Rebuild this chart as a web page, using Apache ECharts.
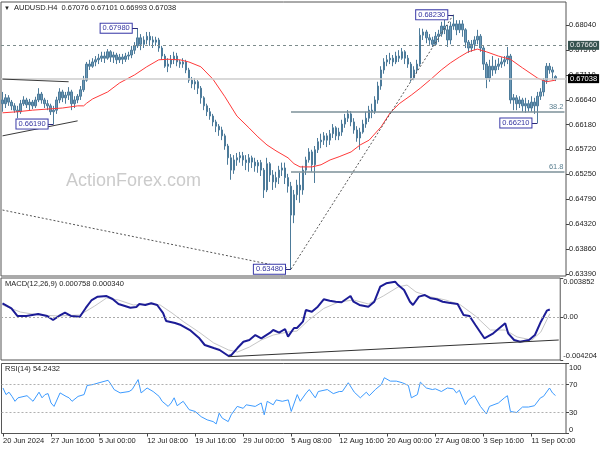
<!DOCTYPE html>
<html><head><meta charset="utf-8">
<script src="https://cdn.jsdelivr.net/npm/echarts@6/dist/echarts.min.js"></script>
<style>html,body{margin:0;padding:0;background:#fff}#c{width:600px;height:450px}</style>
</head><body><div id="c"></div>
<script>
const symbolName = 'AUDUSD.H4';
const lastQuote = ['0.67076', '0.67101', '0.66993', '0.67038'];
const macdTitle = 'MACD(12,26,9) 0.000758 0.000340';
const rsiTitle = 'RSI(14) 54.2432';
const watermark = 'ActionForex.com';
const xTickLabels = ['20 Jun 2024','27 Jun 16:00','5 Jul 00:00','12 Jul 08:00','19 Jul 16:00','29 Jul 00:00','5 Aug 08:00','12 Aug 16:00','20 Aug 00:00','27 Aug 08:00','3 Sep 16:00','11 Sep 00:00'];
const priceTicks = [0.63390,0.63860,0.64320,0.64790,0.65250,0.65720,0.66180,0.66640,0.67110,0.67570,0.68040];
const macdTicks = [-0.004204, 0, 0.003852];
const rsiTicks = [0, 30, 70, 100];
const barCount = 188;

// [open, close, low, high]
const ohlc = [
[0.6664,0.6657,0.6642,0.6679],[0.6657,0.6668,0.6649,0.6675],[0.6668,0.6660,0.6653,0.6673],[0.6660,0.6653,0.6645,0.6664],
[0.6653,0.6645,0.6640,0.6658],[0.6645,0.6642,0.6630,0.6653],[0.6642,0.6657,0.6638,0.6664],[0.6657,0.6664,0.6653,0.6671],
[0.6664,0.6655,0.6649,0.6668],[0.6655,0.6660,0.6645,0.6666],[0.6660,0.6653,0.6647,0.6664],[0.6653,0.6664,0.6649,0.6670],
[0.6664,0.6675,0.6660,0.6686],[0.6675,0.6664,0.6657,0.6679],[0.6664,0.6657,0.6649,0.6668],[0.6657,0.6653,0.6645,0.6664],
[0.6653,0.6642,0.6636,0.6657],[0.6642,0.6645,0.6619,0.6653],[0.6645,0.6664,0.6638,0.6670],[0.6664,0.6679,0.6658,0.6686],
[0.6679,0.6668,0.6660,0.6683],[0.6668,0.6673,0.6657,0.6679],[0.6673,0.6679,0.6664,0.6688],[0.6679,0.6657,0.6645,0.6683],
[0.6657,0.6664,0.6649,0.6671],[0.6664,0.6671,0.6658,0.6675],[0.6671,0.6683,0.6664,0.6690],[0.6683,0.6701,0.6679,0.6709],
[0.6701,0.6731,0.6698,0.6735],[0.6731,0.6727,0.6720,0.6739],[0.6727,0.6735,0.6724,0.6742],[0.6735,0.6739,0.6727,0.6746],
[0.6739,0.6742,0.6731,0.6750],[0.6742,0.6746,0.6735,0.6754],[0.6746,0.6742,0.6733,0.6754],[0.6742,0.6754,0.6739,0.6759],
[0.6754,0.6744,0.6735,0.6757],[0.6744,0.6748,0.6733,0.6754],[0.6748,0.6739,0.6731,0.6752],[0.6739,0.6744,0.6733,0.6750],
[0.6744,0.6740,0.6731,0.6750],[0.6740,0.6746,0.6735,0.6752],[0.6746,0.6748,0.6739,0.6754],[0.6748,0.6757,0.6742,0.6765],
[0.6757,0.6765,0.6750,0.6772],[0.6765,0.6780,0.6761,0.6798],[0.6780,0.6768,0.6757,0.6787],[0.6768,0.6776,0.6761,0.6783],
[0.6776,0.6783,0.6768,0.6791],[0.6783,0.6776,0.6765,0.6791],[0.6776,0.6772,0.6761,0.6783],[0.6772,0.6776,0.6765,0.6782],
[0.6776,0.6761,0.6754,0.6780],[0.6761,0.6746,0.6739,0.6765],[0.6746,0.6727,0.6724,0.6750],[0.6727,0.6731,0.6716,0.6742],
[0.6731,0.6739,0.6724,0.6748],[0.6739,0.6746,0.6731,0.6754],[0.6746,0.6735,0.6727,0.6752],[0.6735,0.6731,0.6724,0.6739],
[0.6731,0.6735,0.6724,0.6742],[0.6735,0.6720,0.6714,0.6739],[0.6720,0.6701,0.6696,0.6724],[0.6701,0.6694,0.6686,0.6707],
[0.6694,0.6698,0.6683,0.6705],[0.6698,0.6686,0.6675,0.6701],[0.6686,0.6668,0.6657,0.6690],[0.6668,0.6653,0.6645,0.6671],
[0.6653,0.6642,0.6634,0.6657],[0.6642,0.6634,0.6627,0.6649],[0.6634,0.6623,0.6615,0.6638],[0.6623,0.6615,0.6604,0.6627],
[0.6615,0.6608,0.6597,0.6619],[0.6608,0.6597,0.6589,0.6614],[0.6597,0.6578,0.6571,0.6601],[0.6578,0.6556,0.6543,0.6582],
[0.6556,0.6533,0.6515,0.6563],[0.6533,0.6552,0.6526,0.6561],[0.6552,0.6556,0.6541,0.6565],[0.6556,0.6560,0.6547,0.6567],
[0.6560,0.6552,0.6541,0.6567],[0.6552,0.6547,0.6533,0.6561],[0.6547,0.6556,0.6530,0.6563],[0.6556,0.6548,0.6537,0.6560],
[0.6548,0.6541,0.6530,0.6556],[0.6541,0.6547,0.6528,0.6552],[0.6547,0.6533,0.6522,0.6552],[0.6533,0.6496,0.6481,0.6537],
[0.6496,0.6545,0.6492,0.6556],[0.6545,0.6524,0.6511,0.6548],[0.6524,0.6511,0.6496,0.6533],[0.6511,0.6519,0.6500,0.6530],
[0.6519,0.6533,0.6507,0.6541],[0.6533,0.6537,0.6522,0.6547],[0.6537,0.6519,0.6507,0.6547],[0.6519,0.6503,0.6491,0.6526],
[0.6503,0.6449,0.6348,0.6511],[0.6449,0.6487,0.6434,0.6496],[0.6487,0.6505,0.6477,0.6515],[0.6505,0.6496,0.6472,0.6528],
[0.6496,0.6533,0.6487,0.6541],[0.6533,0.6552,0.6524,0.6558],[0.6552,0.6567,0.6547,0.6574],[0.6567,0.6543,0.6530,0.6571],
[0.6543,0.6571,0.6509,0.6578],[0.6571,0.6586,0.6565,0.6593],[0.6586,0.6589,0.6574,0.6601],[0.6589,0.6597,0.6580,0.6604],
[0.6597,0.6589,0.6576,0.6602],[0.6589,0.6601,0.6580,0.6608],[0.6601,0.6612,0.6593,0.6619],[0.6612,0.6597,0.6589,0.6615],
[0.6597,0.6604,0.6589,0.6612],[0.6604,0.6619,0.6597,0.6627],[0.6619,0.6630,0.6612,0.6638],[0.6630,0.6638,0.6623,0.6645],
[0.6638,0.6623,0.6615,0.6643],[0.6623,0.6608,0.6601,0.6630],[0.6608,0.6593,0.6586,0.6615],[0.6593,0.6604,0.6571,0.6612],
[0.6604,0.6619,0.6601,0.6627],[0.6619,0.6630,0.6612,0.6642],[0.6630,0.6645,0.6623,0.6653],[0.6645,0.6642,0.6630,0.6657],
[0.6642,0.6664,0.6638,0.6671],[0.6664,0.6690,0.6657,0.6698],[0.6690,0.6720,0.6683,0.6727],[0.6720,0.6735,0.6713,0.6742],
[0.6735,0.6739,0.6727,0.6748],[0.6739,0.6742,0.6731,0.6752],[0.6742,0.6735,0.6727,0.6748],[0.6735,0.6746,0.6731,0.6754],
[0.6746,0.6742,0.6735,0.6757],[0.6742,0.6754,0.6739,0.6761],[0.6754,0.6742,0.6731,0.6757],[0.6742,0.6731,0.6724,0.6748],
[0.6731,0.6705,0.6698,0.6735],[0.6705,0.6720,0.6701,0.6727],[0.6720,0.6731,0.6713,0.6739],[0.6731,0.6785,0.6727,0.6798],
[0.6785,0.6791,0.6776,0.6797],[0.6791,0.6780,0.6770,0.6795],[0.6780,0.6776,0.6767,0.6787],[0.6776,0.6768,0.6763,0.6782],
[0.6768,0.6783,0.6765,0.6791],[0.6783,0.6787,0.6772,0.6795],[0.6787,0.6802,0.6782,0.6810],[0.6802,0.6795,0.6787,0.6817],
[0.6795,0.6776,0.6763,0.6804],[0.6776,0.6802,0.6768,0.6810],[0.6802,0.6806,0.6795,0.6823],[0.6806,0.6795,0.6785,0.6813],
[0.6795,0.6806,0.6789,0.6813],[0.6806,0.6795,0.6782,0.6813],[0.6795,0.6772,0.6761,0.6798],[0.6772,0.6761,0.6752,0.6776],
[0.6761,0.6768,0.6754,0.6776],[0.6768,0.6776,0.6757,0.6783],[0.6776,0.6783,0.6768,0.6795],[0.6783,0.6761,0.6754,0.6787],
[0.6761,0.6731,0.6720,0.6765],[0.6731,0.6705,0.6686,0.6735],[0.6705,0.6727,0.6698,0.6739],[0.6727,0.6720,0.6709,0.6746],
[0.6720,0.6727,0.6713,0.6739],[0.6727,0.6731,0.6720,0.6742],[0.6731,0.6735,0.6724,0.6744],[0.6735,0.6739,0.6727,0.6746],
[0.6739,0.6746,0.6731,0.6763],[0.6746,0.6664,0.6657,0.6750],[0.6664,0.6668,0.6645,0.6675],[0.6668,0.6657,0.6645,0.6673],
[0.6657,0.6664,0.6649,0.6671],[0.6664,0.6653,0.6642,0.6668],[0.6653,0.6657,0.6640,0.6668],[0.6657,0.6649,0.6642,0.6664],
[0.6649,0.6660,0.6642,0.6671],[0.6660,0.6653,0.6638,0.6668],[0.6653,0.6671,0.6621,0.6679],[0.6671,0.6679,0.6664,0.6686],
[0.6679,0.6701,0.6671,0.6705],[0.6701,0.6727,0.6694,0.6733],[0.6727,0.6720,0.6713,0.6733],[0.6720,0.6716,0.6701,0.6726],
[0.67076,0.67038,0.66993,0.67101]
];

// moving average [bar, value]
const ma = [[0,0.6640],[5,0.6642],[10,0.6645],[15,0.6647],[20,0.6649],[25,0.6653],[27,0.6653],[28,0.6658],[30,0.6666],
[35,0.6679],[39,0.6696],[44,0.6711],[48,0.6726],[52,0.6739],[55,0.6740],[59,0.6739],[62,0.6735],[66,0.6726],[70,0.6703],
[74,0.6670],[78,0.6634],[82,0.6612],[85,0.6595],[88,0.6580],[91,0.6569],[95,0.6556],[97,0.6545],[99,0.6539],[103,0.6539],
[106,0.6543],[109,0.6552],[112,0.6558],[116,0.6567],[119,0.6580],[122,0.6589],[126,0.6614],[129,0.6640],[132,0.6657],
[136,0.6673],[139,0.6686],[143,0.6705],[146,0.6720],[149,0.6733],[152,0.6744],[155,0.6754],[158,0.6759],[161,0.6754],
[165,0.6746],[169,0.6740],[173,0.6724],[178,0.6705],[181,0.6698],[184,0.6701]];

const macdMain = [[0,0.00137],[3,0.00086],[5,0.00012],[8,0.00012],[10,0.00022],[12,0.00032],[15,0.00012],[17,-0.00027],
[19,0.00012],[21,0.00044],[23,0.00012],[26,0.00005],[28,0.00091],[30,0.00169],[32,0.00202],[35,0.00208],[37,0.00179],
[39,0.00130],[43,0.00093],[45,0.00100],[46,0.00130],[48,0.00120],[50,0.00137],[52,0.00120],[54,0.00041],[55,-0.00037],
[58,-0.00057],[60,-0.00077],[63,-0.00126],[66,-0.00201],[68,-0.00273],[71,-0.00303],[73,-0.00322],[76,-0.00381],
[77,-0.00371],[79,-0.00303],[81,-0.00241],[83,-0.00224],[85,-0.00175],[87,-0.00207],[90,-0.00152],[91,-0.00126],
[93,-0.00152],[95,-0.00116],[96,-0.00191],[98,-0.00106],[99,-0.00106],[101,-0.00044],[102,0.00071],[104,0.00054],
[106,0.00103],[108,0.00176],[110,0.00162],[112,0.00152],[114,0.00147],[117,0.00208],[118,0.00152],[120,0.00120],
[123,0.00103],[125,0.00152],[127,0.00300],[129,0.00333],[132,0.00349],[133,0.00316],[135,0.00267],[137,0.00152],
[138,0.00120],[140,0.00202],[142,0.00218],[144,0.00186],[146,0.00176],[148,0.00152],[150,0.00143],[153,0.00130],
[155,0.00022],[157,0.00012],[159,-0.00077],[162,-0.00207],[165,-0.00158],[167,-0.00109],[169,-0.00060],[170,-0.00158],
[172,-0.00224],[174,-0.00241],[177,-0.00224],[179,-0.00175],[181,-0.00044],[183,0.00064],[184,0.000758]];

const macdSignal = [[0,0.00120],[6,0.00051],[12,0.00022],[19,0.00012],[26,0.00022],[31,0.00110],[35,0.00189],[39,0.00169],
[44,0.00120],[49,0.00130],[53,0.00120],[57,0.00041],[61,-0.00047],[66,-0.00145],[71,-0.00253],[76,-0.00322],[79,-0.00342],
[83,-0.00293],[87,-0.00224],[91,-0.00175],[96,-0.00145],[99,-0.00136],[103,-0.00027],[108,0.00086],[113,0.00149],
[118,0.00169],[123,0.00130],[128,0.00208],[133,0.00297],[136,0.00316],[139,0.00248],[144,0.00199],[149,0.00169],
[154,0.00120],[159,0.00012],[164,-0.00126],[169,-0.00126],[173,-0.00194],[178,-0.00224],[181,-0.00145],[184,0.00034]];

const rsi = [[0,65],[1,55.6],[2,59],[3,53],[4,46],[5,51],[7,53],[8,54],[10,46],[12,59],[13,51],[14,55.6],[15,57],[16,43.6],
[17,38.7],[19,58],[21,53],[22,51],[23,46],[25,53],[27,55.6],[28,68.6],[30,70],[32,72.5],[35,76],[36,70],[37,62.8],[39,58],
[42,60],[43,62.8],[45,77],[46,58],[48,65],[50,60],[52,53],[53,46],[55,38.7],[56,43.6],[57,51],[58,39.7],[60,46],[62,34],
[64,31.5],[66,24],[68,19.5],[70,17],[71,13.7],[72,29],[73,22],[75,17],[76,26.7],[78,38.7],[80,36],[81,41],[84,38.7],
[86,43.6],[87,26.7],[88,46],[90,41],[91,48],[93,46],[95,48],[96,31.5],[98,55.6],[99,46],[101,58],[102,62.8],[104,51],
[105,60],[108,62.8],[110,57],[112,60],[113,60],[115,72.5],[117,59],[119,51],[121,59],[122,54],[124,62.8],[126,70],
[127,79.7],[129,74.8],[131,74.8],[133,72.5],[135,68.6],[136,51],[138,55.6],[139,73.4],[141,65],[143,62.8],[144,63.8],
[146,60],[148,65],[150,63.8],[151,58],[152,61.8],[154,41],[155,48],[157,54],[159,38.7],[161,28],[162,38.7],[165,43.6],
[167,51],[168,54],[169,31.5],[171,30],[173,37.8],[175,37.8],[177,39.7],[179,51],[180,53],[182,65],[183,58],[184,54.24]];

// swing labels: bar of extreme, price
const swings = [[17,0.66190],[45,0.67980],[96,0.63480],[150,0.68230],[178,0.66210]];
const resistLevel = 0.67660;
const lastPrice = 0.67038;
const fibLevels = [['38.2',0.664155],['61.8',0.652945]];
const fibStartBar = 96;
const trendSolid = [[[0,0.6703],[22,0.6698]], [[0,0.6597],[25,0.6625]]];
const trendDotted = [[[0,0.64585],[95,0.63502]], [[96,0.63480],[150,0.68230]]];
const macdTrend = [[76,-0.00388],[187,-0.00224]];

const FONT = '"Liberation Sans", Arial, sans-serif';
const FS = 7.5;
const categories = Array.from({length: barCount}, (_, i) => String(i));
const tickEvery = 16;

const chart = echarts.init(document.getElementById('c'), null, {renderer: 'canvas'});

const gridStyle = {show: true, borderColor: '#555', borderWidth: 1, backgroundColor: '#fff'};
const grids = [
  Object.assign({left: 1, top: 2, width: 565, height: 274}, gridStyle),
  Object.assign({left: 1, top: 278, width: 565, height: 82}, gridStyle),
  Object.assign({left: 1, top: 363.5, width: 565, height: 70}, gridStyle)
];
const hiddenX = (g) => ({type: 'category', gridIndex: g, data: categories, boundaryGap: true,
  axisLine: {show: false}, axisTick: {show: false}, axisLabel: {show: false}, splitLine: {show: false}});
const labelInterval = (index) => index % tickEvery === 0 && index / tickEvery < xTickLabels.length;

const yBase = (g, min, max, ticks, fmt, edgeAlign) => {
  const lab = {show: true, customValues: ticks, formatter: fmt, fontSize: FS, fontFamily: FONT, color: '#222', margin: 3};
  if (edgeAlign) { lab.verticalAlignMinLabel = 'bottom'; lab.verticalAlignMaxLabel = 'top'; }
  return {
    type: 'value', gridIndex: g, position: 'right', min: min, max: max, scale: true,
    axisLine: {show: false}, splitLine: {show: false},
    axisTick: {show: true, inside: false, length: 3, lineStyle: {color: '#444'}, customValues: ticks},
    axisLabel: lab
  };
};

const priceMin = 0.633527, priceMax = 0.684695;

const markLineData = [];
markLineData.push({yAxis: resistLevel, lineStyle: {type: [3, 3], color: '#7d8c8c', width: 1},
  label: {show: true, position: 'end', distance: 2, formatter: resistLevel.toFixed(5), backgroundColor: '#36524f',
    color: '#eaeaea', padding: [1, 2, 0, 2], fontSize: FS, fontFamily: FONT}});
markLineData.push({yAxis: lastPrice, lineStyle: {type: 'solid', color: '#cdcdcd', width: 1.5},
  label: {show: true, position: 'end', distance: 2, formatter: lastQuote[3], backgroundColor: '#000',
    color: '#fff', padding: [1, 2, 0, 2], fontSize: FS, fontFamily: FONT}});
fibLevels.forEach(([name, v]) => {
  markLineData.push([{coord: [fibStartBar, v], lineStyle: {type: 'solid', color: '#7c9098', width: 1.5},
    label: {show: true, position: 'insideEndTop', distance: 1, formatter: name, color: '#5a7f90', fontSize: FS, fontFamily: FONT}},
    {coord: [barCount - 1, v]}]);
});
trendSolid.forEach(seg => markLineData.push([{coord: seg[0], lineStyle: {type: 'solid', color: '#3a3a3a', width: 1}}, {coord: seg[1]}]));
trendDotted.forEach(seg => markLineData.push([{coord: seg[0], lineStyle: {type: [2, 2], color: '#555', width: 1}}, {coord: seg[1]}]));
swings.forEach(([i, p]) => markLineData.push([{coord: [i - 2, p], lineStyle: {type: 'solid', color: '#2a2a7a', width: 1}}, {coord: [i, p]}]));

const markPointData = swings.map(([i, p]) => ({coord: [i - 2, p], symbolSize: 0,
  label: {show: true, position: 'left', distance: 0, formatter: p.toFixed(5), backgroundColor: '#fff',
    borderColor: '#3a3aa8', borderWidth: 1, padding: [1, 2, 0, 2], color: '#3434a0', fontSize: FS, fontFamily: FONT}}));

const option = {
  animation: false,
  backgroundColor: '#fff',
  grid: grids,
  xAxis: [hiddenX(0), hiddenX(1), {
    type: 'category', gridIndex: 2, data: categories, boundaryGap: true,
    axisLine: {show: false}, splitLine: {show: false},
    axisTick: {show: true, alignWithLabel: true, interval: labelInterval, length: 3, lineStyle: {color: '#444'}},
    axisLabel: {show: true, interval: labelInterval, align: 'left', margin: 3, fontSize: FS, fontFamily: FONT, color: '#222',
      formatter: (v, idx) => xTickLabels[Math.round(idx / tickEvery)] || ''}
  }],
  yAxis: [
    yBase(0, priceMin, priceMax, priceTicks, v => v.toFixed(5), false),
    yBase(1, macdTicks[0], macdTicks[2], macdTicks, v => v === 0 ? '0.00' : v.toFixed(6), true),
    yBase(2, 0, 100, rsiTicks, v => String(v), true)
  ],
  series: [
    {type: 'candlestick', xAxisIndex: 0, yAxisIndex: 0, data: ohlc, barWidth: 2, silent: true,
      itemStyle: {color: '#6b98b6', color0: '#6b98b6', borderColor: '#4d7b9a', borderColor0: '#4d7b9a', borderWidth: 1},
      markLine: {silent: true, precision: 6, symbol: ['none', 'none'], animation: false, label: {show: false}, data: markLineData},
      markPoint: {silent: true, animation: false, symbolSize: 0, data: markPointData}},
    {type: 'line', xAxisIndex: 0, yAxisIndex: 0, data: ma, symbol: 'none', silent: true,
      lineStyle: {color: '#ff3a3a', width: 1}},
    {type: 'line', xAxisIndex: 1, yAxisIndex: 1, data: macdSignal, symbol: 'none', silent: true,
      lineStyle: {color: '#c6c6c6', width: 1}},
    {type: 'line', xAxisIndex: 1, yAxisIndex: 1, data: macdMain, symbol: 'none', silent: true,
      lineStyle: {color: '#1c1c96', width: 2},
      markLine: {silent: true, precision: 6, symbol: ['none', 'none'], animation: false, label: {show: false},
        data: [{yAxis: 0, lineStyle: {type: [2, 2], color: '#aaa', width: 1}},
               [{coord: macdTrend[0], lineStyle: {type: 'solid', color: '#333', width: 1}}, {coord: macdTrend[1]}]]}},
    {type: 'line', xAxisIndex: 2, yAxisIndex: 2, data: rsi, symbol: 'none', silent: true,
      lineStyle: {color: '#3d9bff', width: 1},
      markLine: {silent: true, precision: 4, symbol: ['none', 'none'], animation: false, label: {show: false},
        data: [{yAxis: 70, lineStyle: {type: [2, 2], color: '#b0b0b0', width: 1}},
               {yAxis: 30, lineStyle: {type: [2, 2], color: '#b0b0b0', width: 1}}]}}
  ],
  graphic: [
    {type: 'text', left: 4, top: 5, z: 100, style: {text: '▼', font: '6px ' + FONT, fill: '#222'}},
    {type: 'text', left: 14, top: 4, z: 100, style: {text: symbolName + '  ' + lastQuote.join(' '), font: FS + 'px ' + FONT, fill: '#222'}},
    {type: 'text', left: 66, top: 172, z: 1, style: {text: watermark, font: '18px ' + FONT, fill: '#cbcbcb'}},
    {type: 'text', left: 5, top: 280, z: 100, style: {text: macdTitle, font: FS + 'px ' + FONT, fill: '#222'}},
    {type: 'text', left: 5, top: 365, z: 100, style: {text: rsiTitle, font: FS + 'px ' + FONT, fill: '#222'}}
  ]
};
chart.setOption(option);
</script></body></html>
